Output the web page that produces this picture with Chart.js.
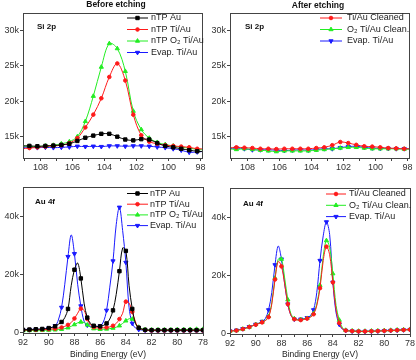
<!DOCTYPE html>
<html>
<head>
<meta charset="utf-8">
<script src="https://cdn.jsdelivr.net/npm/chart.js@4.4.0/dist/chart.umd.min.js"></script>
<style>
  html, body { margin: 0; padding: 0; background: #fff; }
  #wrap { position: relative; width: 416px; height: 360px; overflow: hidden; }
  canvas { position: absolute; }
</style>
</head>
<body>
<div id="wrap">
  <canvas id="siBefore" width="208" height="178" style="left:0;top:0"></canvas>
  <canvas id="siAfter" width="208" height="178" style="left:208px;top:0"></canvas>
  <canvas id="auBefore" width="208" height="182" style="left:0;top:178px"></canvas>
  <canvas id="auAfter" width="208" height="182" style="left:208px;top:178px"></canvas>
</div>
<script>
// binding energies (eV)
const siEnergies = [109.2, 108.7, 108.2, 107.7, 107.2, 106.7, 106.2, 105.7, 105.2, 104.7, 104.2, 103.7,
  103.2, 102.7, 102.2, 101.7, 101.2, 100.7, 100.2, 99.7, 99.2, 98.7, 98.2, 97.7];
const auEnergies = [92, 91.5, 91, 90.5, 90, 89.5,
  89.25, 89, 88.75, 88.5, 88.25, 88, 87.75, 87.5, 87.25, 87,
  86.75, 86.5, 86.25, 86, 85.75, 85.5, 85.25, 85, 84.75, 84.5,
  84.25, 84, 83.75, 83.5, 83.25, 83,
  82.5, 82, 81.5, 81, 80.5, 80, 79.5, 79, 78.5, 78];

// Si 2p, before etching
const siNtpAu = [13700, 13700, 13650, 13700, 13750, 13850, 14000, 14400, 14850, 15150, 15400, 15400,
  15000, 14600, 14480, 14650, 14600, 14100, 13700, 13500, 13300, 13100, 12950, 12900];
const siNtpTiAu = [13300, 13400, 13500, 13600, 13700, 13800, 14100, 14800, 16300, 18100, 20400, 23400,
  25300, 22900, 18100, 15200, 14300, 14000, 13800, 13700, 13600, 13500, 13300, 13300];
const siNtpO2TiAu = [13700, 13650, 13600, 13700, 13800, 14000, 14300, 15000, 17150, 20700, 24800, 28100,
  27400, 24200, 18600, 16000, 14800, 14200, 13900, 13700, 13500, 13400, 13200, 13150];
const siEvapBefore = [13500, 13500, 13450, 13500, 13450, 13500, 13550, 13650, 13600, 13650, 13600, 13700,
  13700, 13650, 13700, 13700, 13650, 13550, 13450, 13300, 13100, 12800, 12850, 12950];

// Si 2p, after etching
const siTiAuCleaned = [13400, 13500, 13450, 13400, 13300, 13300, 13250, 13300, 13300, 13300, 13300, 13400,
  13500, 13800, 14250, 14100, 13850, 13650, 13600, 13500, 13400, 13350, 13300, 13300];
const siO2Cleaned = [13300, 13200, 13300, 13200, 13100, 13000, 12900, 13000, 13000, 13000, 13000, 13100,
  13200, 13300, 13400, 13500, 13500, 13400, 13300, 13300, 13300, 13300, 13250, 13250];
const siEvapAfter = [13300, 13400, 13300, 13150, 13150, 13150, 13100, 13050, 13100, 13150, 13100, 13200,
  13300, 13300, 13450, 13600, 13650, 13500, 13400, 13350, 13350, 13300, 13300, 13300];

// Au 4f, before etching
const auNtpAu = [800, 900, 1000, 1100, 1400, 2000,
  2700, 3500, 5000, 8000, 16000, 21500, 23800, 18500, 10000, 5000,
  3000, 2200, 2000, 2000, 2300, 3000, 4500, 7500, 13000, 21000,
  29000, 28000, 16000, 8000, 3000, 1500,
  800, 700, 700, 700, 700, 700, 700, 700, 700, 700];
const auNtpTiAu = [700, 750, 800, 900, 1000, 1200,
  1400, 1600, 2000, 2500, 3300, 4700, 6500, 8100, 7500, 4500,
  2500, 1700, 1500, 1500, 1500, 1600, 1800, 2200, 3000, 4500,
  6500, 10500, 10000, 7000, 3500, 1500,
  700, 600, 600, 600, 600, 600, 600, 600, 600, 600];
const auNtpO2TiAu = [500, 550, 600, 650, 700, 800,
  900, 1000, 1200, 1500, 2000, 2600, 3200, 3500, 3300, 2500,
  1700, 1200, 1000, 1000, 1000, 1100, 1200, 1400, 1700, 2200,
  3000, 3900, 4600, 4500, 3000, 1700,
  900, 800, 800, 800, 800, 850, 900, 950, 1000, 1000];
const auEvapBefore = [700, 800, 900, 1000, 1300, 2200,
  4200, 8500, 16500, 26000, 33500, 27000, 16500, 9000, 3800, 2400,
  2000, 1900, 1900, 2100, 3500, 7500, 15500, 24500, 37000, 43000,
  35000, 24000, 8500, 3000, 1400, 900,
  600, 500, 500, 500, 500, 500, 500, 500, 500, 500];

// Au 4f, after etching
const auTiAuCleaned = [700, 900, 1400, 2100, 2900, 3700,
  4300, 5500, 10000, 18500, 24700, 23000, 17000, 10000, 6000, 4800,
  4500, 4500, 4700, 5000, 5500, 6500, 9500, 15500, 25000, 29800,
  27000, 17500, 8000, 3500, 1500, 900,
  700, 600, 600, 650, 700, 800, 900, 1000, 1100, 1200];
const auO2Cleaned = [700, 900, 1400, 2100, 3000, 3800,
  4400, 5800, 10500, 19000, 25500, 25500, 19000, 11500, 6500, 5000,
  4600, 4700, 4900, 5100, 5600, 6800, 10000, 16500, 26500, 31900,
  29500, 20500, 9500, 4500, 1800, 1000,
  800, 700, 700, 750, 800, 900, 1000, 1100, 1200, 1300];
const auEvapAfter = [700, 1000, 1500, 2200, 3000, 4000,
  5000, 8000, 14000, 23500, 30000, 25500, 17000, 10000, 6000, 4800,
  4700, 4800, 5000, 5300, 6000, 8000, 14000, 25000, 33500, 38300,
  34000, 17500, 7000, 3000, 1300, 900,
  700, 600, 600, 650, 700, 800, 900, 1000, 1100, 1200];

// ticks
const siXTicks = [98, 99, 100, 101, 102, 103, 104, 105, 106, 107, 108, 109];
const siXLabels = [98, 100, 102, 104, 106, 108];
const auXTicks = [78, 79, 80, 81, 82, 83, 84, 85, 86, 87, 88, 89, 90, 91, 92];
const auXLabels = [78, 80, 82, 84, 86, 88, 90, 92];
const siYTicks = [15000, 20000, 25000, 30000];
const auYTicks = [0, 20000, 40000];

const FONT = '"Liberation Sans", Arial, sans-serif';

const styles = {
  ntpAu: { color: "#000000", pointStyle: "rect", radius: 2.4, rotation: 0 },
  ntpTi: { color: "#ff1a1a", pointStyle: "circle", radius: 1.8, rotation: 0 },
  ntpO2: { color: "#22ee22", pointStyle: "triangle", radius: 2.4, rotation: 0 },
  evap: { color: "#1a1aff", pointStyle: "triangle", radius: 2.4, rotation: 180 },
};

const decor = {
  id: "decor",
  afterDraw(chart, args, o) {
    const { ctx, chartArea: a } = chart;
    ctx.save();
    ctx.strokeStyle = "#444";
    ctx.lineWidth = 1;
    ctx.strokeRect(a.left + 0.5, a.top + 0.5, a.right - a.left, a.bottom - a.top);

    ctx.fillStyle = "#111";
    ctx.textBaseline = "middle";
    if (o.title) {
      ctx.font = "bold 8.5px " + FONT;
      ctx.textAlign = "center";
      ctx.fillText(o.title, o.titleX, o.titleY);
    }
    ctx.font = "bold 8px " + FONT;
    ctx.textAlign = "left";
    ctx.fillText(o.label, o.labelX, o.labelY);

    chart.data.datasets.forEach((d, i) => {
      const y = o.legendY + i * o.rowH;
      ctx.strokeStyle = d.borderColor;
      ctx.lineWidth = 1;
      ctx.beginPath();
      ctx.moveTo(o.lineX0, y);
      ctx.lineTo(o.lineX1, y);
      ctx.stroke();
      ctx.fillStyle = d.borderColor;
      Chart.helpers.drawPoint(ctx, {
        pointStyle: d.pointStyle,
        radius: d.markerSize,
        rotation: d.pointRotation,
        borderWidth: 1,
      }, (o.lineX0 + o.lineX1) / 2, y);
      ctx.fillStyle = "#222";
      ctx.font = "9px " + FONT;
      ctx.textAlign = "left";
      ctx.fillText(d.label, o.textX, y);
    });

    if (o.axisTitle) {
      ctx.fillStyle = "#222";
      ctx.font = "8.5px " + FONT;
      ctx.textAlign = "center";
      ctx.fillText(o.axisTitle, o.axisTitleX, o.axisTitleY);
    }
    ctx.restore();
  },
};

function makePanel(id, p) {
  const datasets = p.series.map((s) => ({
    label: s.label,
    data: p.energies.map((e, i) => ({ x: e, y: s.values[i] })),
    borderColor: s.style.color,
    backgroundColor: s.style.color,
    borderWidth: 1,
    pointStyle: s.style.pointStyle,
    pointRotation: s.style.rotation,
    markerSize: s.style.radius,
    pointRadius: (c) => (p.markerAt(p.energies[c.dataIndex]) ? s.style.radius : 0),
    pointHoverRadius: 0,
    pointBorderWidth: 1,
    tension: 0.35,
    clip: { left: 0, right: 0, top: false, bottom: false },
  }));

  return new Chart(document.getElementById(id), {
    type: "line",
    data: { datasets },
    options: {
      responsive: false,
      animation: false,
      events: [],
      layout: { padding: p.padding },
      plugins: {
        legend: { display: false },
        tooltip: { enabled: false },
        decor: p.decor,
      },
      scales: {
        x: {
          type: "linear",
          reverse: true,
          min: p.xMin,
          max: p.xMax,
          afterBuildTicks: (s) => {
            s.ticks = p.xTicks.map((v) => ({ value: v }));
          },
          ticks: {
            autoSkip: false,
            maxRotation: 0,
            padding: 1,
            color: "#333",
            font: { family: FONT, size: 9 },
            callback: (v) => (p.xLabels.includes(v) ? String(v) : ""),
          },
          grid: { drawOnChartArea: false, tickLength: 3, color: "#444" },
          border: { display: false },
          afterFit: (s) => {
            s.height = p.xHeight;
            s.paddingLeft = 0;
            s.paddingRight = 0;
          },
        },
        y: {
          min: p.yMin,
          max: p.yMax,
          afterBuildTicks: (s) => {
            s.ticks = p.yTicks.map((v) => ({ value: v }));
          },
          ticks: {
            padding: 1,
            color: "#333",
            font: { family: FONT, size: 9 },
            callback: (v) => (v === 0 ? "0" : v / 1000 + "k"),
          },
          grid: { drawOnChartArea: false, tickLength: 3, color: "#444" },
          border: { display: false },
          afterFit: (s) => {
            s.width = p.yWidth;
            s.paddingTop = 0;
            s.paddingBottom = 0;
          },
        },
      },
    },
    plugins: [decor],
  });
}

const allMarkers = () => true;
const halfVoltMarkers = (e) => Number.isInteger(e * 2);

makePanel("siBefore", {
  energies: siEnergies,
  markerAt: allMarkers,
  series: [
    { label: "nTP Au", values: siNtpAu, style: styles.ntpAu },
    { label: "nTP Ti/Au", values: siNtpTiAu, style: styles.ntpTi },
    { label: "nTP O\u2082 Ti/Au", values: siNtpO2TiAu, style: styles.ntpO2 },
    { label: "Evap. Ti/Au", values: siEvapBefore, style: styles.evap },
  ],
  xMin: 97.9, xMax: 109.1, xTicks: siXTicks, xLabels: siXLabels,
  yMin: 12000, yMax: 32400, yTicks: siYTicks,
  padding: { top: 13, right: 6, left: 0, bottom: 0 },
  yWidth: 23, xHeight: 20,
  decor: {
    title: "Before etching", titleX: 116, titleY: 5,
    label: "Si 2p", labelX: 37, labelY: 26.5,
    lineX0: 127, lineX1: 148, textX: 151, legendY: 18, rowH: 11.5,
  },
});

makePanel("siAfter", {
  energies: siEnergies,
  markerAt: allMarkers,
  series: [
    { label: "Ti/Au Cleaned", values: siTiAuCleaned, style: styles.ntpTi },
    { label: "O\u2082 Ti/Au Clean.", values: siO2Cleaned, style: styles.ntpO2 },
    { label: "Evap. Ti/Au", values: siEvapAfter, style: styles.evap },
  ],
  xMin: 97.9, xMax: 109.1, xTicks: siXTicks, xLabels: siXLabels,
  yMin: 12000, yMax: 32400, yTicks: siYTicks,
  padding: { top: 13, right: 7, left: 0, bottom: 0 },
  yWidth: 22, xHeight: 20,
  decor: {
    title: "After etching", titleX: 110, titleY: 6,
    label: "Si 2p", labelX: 37, labelY: 26.5,
    lineX0: 112, lineX1: 134, textX: 139, legendY: 18, rowH: 11.5,
  },
});

makePanel("auBefore", {
  energies: auEnergies,
  markerAt: halfVoltMarkers,
  series: [
    { label: "nTP Au", values: auNtpAu, style: styles.ntpAu },
    { label: "nTP Ti/Au", values: auNtpTiAu, style: styles.ntpTi },
    { label: "nTP O\u2082 Ti/Au", values: auNtpO2TiAu, style: styles.ntpO2 },
    { label: "Evap. Ti/Au", values: auEvapBefore, style: styles.evap },
  ],
  xMin: 78, xMax: 92, xTicks: auXTicks, xLabels: auXLabels,
  yMin: -300, yMax: 50000, yTicks: auYTicks,
  padding: { top: 9, right: 5, left: 0, bottom: 0 },
  yWidth: 23, xHeight: 27,
  decor: {
    label: "Au 4f", labelX: 35, labelY: 24,
    lineX0: 127, lineX1: 148, textX: 150, legendY: 15.5, rowH: 10.7,
    axisTitle: "Binding Energy (eV)", axisTitleX: 108, axisTitleY: 177,
  },
});

makePanel("auAfter", {
  energies: auEnergies,
  markerAt: halfVoltMarkers,
  series: [
    { label: "Ti/Au Cleaned", values: auTiAuCleaned, style: styles.ntpTi },
    { label: "O\u2082 Ti/Au Clean.", values: auO2Cleaned, style: styles.ntpO2 },
    { label: "Evap. Ti/Au", values: auEvapAfter, style: styles.evap },
  ],
  xMin: 78, xMax: 92, xTicks: auXTicks, xLabels: auXLabels,
  yMin: -300, yMax: 50000, yTicks: auYTicks,
  padding: { top: 10, right: 6, left: 0, bottom: 0 },
  yWidth: 22, xHeight: 26,
  decor: {
    label: "Au 4f", labelX: 35, labelY: 25.5,
    lineX0: 118, lineX1: 138, textX: 141, legendY: 16, rowH: 11.3,
    axisTitle: "Binding Energy (eV)", axisTitleX: 112, axisTitleY: 177,
  },
});
</script>
</body>
</html>
